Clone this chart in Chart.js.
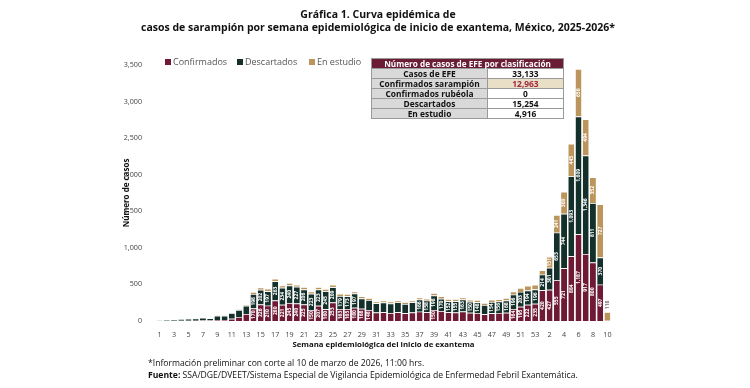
<!DOCTYPE html>
<html>
<head>
<meta charset="utf-8">
<script src="https://cdn.jsdelivr.net/npm/chart.js@4.4.1/dist/chart.umd.min.js"></script>
<style>
  body { margin: 0; background: #fff; font-family: "Open Sans", sans-serif; }
  #wrap { position: relative; width: 750px; height: 388px; overflow: hidden; }
  #chartBox { position: absolute; left: 0; top: 0; width: 750px; height: 388px; }
  .title { position: absolute; left: 0; width: 756px; text-align: center; font-weight: bold; font-size: 10.5px; color: #111; line-height: 13px; top: 8px; }
  .legend { position: absolute; top: 55px; left: 165px; font-size: 9px; color: #555; }
  .legend span { position: absolute; white-space: nowrap; }
  .legend i { display: inline-block; width: 6px; height: 6px; margin-right: 2px; vertical-align: 0px; }
  table.efe { position: absolute; left: 371px; top: 58px; border-collapse: collapse; font-size: 8.4px; font-weight: bold; color: #111; }
  table.efe td { border: 1px solid #9a9a9a; height: 9px; padding: 0; line-height: 9px; text-align: center; }
  table.efe td.h { background: #6a1d35; color: #fff; font-size: 8.2px; }
  table.efe td.l { background: #d9d9d9; width: 115px; }
  table.efe td.v { background: #fff; width: 75px; }
  table.efe td.hl { background: #e9dfc6; color: #a3283f; }
  .foot { position: absolute; left: 148px; top: 357px; font-size: 8.6px; color: #111; line-height: 12px; }
</style>
</head>
<body>
<div id="wrap">
  <div id="chartBox"><canvas id="sarChart"></canvas></div>
  <div class="title">Gráfica 1. Curva epidémica de<br>casos de sarampión por semana epidemiológica de inicio de exantema, México, 2025-2026*</div>
  <div class="legend">
    <span style="left:0"><i style="background:#6e1a35"></i>Confirmados</span>
    <span style="left:72px"><i style="background:#13302a"></i>Descartados</span>
    <span style="left:144px"><i style="background:#bc955c"></i>En estudio</span>
  </div>
  <table class="efe">
    <tr><td class="h" colspan="2">Número de casos de EFE por clasificación</td></tr>
    <tr><td class="l">Casos de EFE</td><td class="v">33,133</td></tr>
    <tr><td class="l">Confirmados sarampión</td><td class="v hl">12,963</td></tr>
    <tr><td class="l">Confirmados rubéola</td><td class="v">0</td></tr>
    <tr><td class="l">Descartados</td><td class="v">15,254</td></tr>
    <tr><td class="l">En estudio</td><td class="v">4,916</td></tr>
  </table>
  <div class="foot">*Información preliminar con corte al 10 de marzo de 2026, 11:00 hrs.<br><b>Fuente:</b> SSA/DGE/DVEET/Sistema Especial de Vigilancia Epidemiológica de Enfermedad Febril Exantemática.</div>
</div>
<script>
// semanas 2025 (1-53) y 2026 (1-10)
const weeks = [
  '1','2','3','4','5','6','7','8','9','10','11','12','13','14','15','16','17','18','19','20',
  '21','22','23','24','25','26','27','28','29','30','31','32','33','34','35','36','37','38','39','40',
  '41','42','43','44','45','46','47','48','49','50','51','52','53',
  '1','2','3','4','5','6','7','8','9','10'
];

const confirmados = [
  1, 1, 3, 4, 4, 5, 8, 6, 12, 14, 30, 55, 95, 170, 226, 210, 280, 221, 245, 240,
  225, 150, 207, 160, 253, 163, 165, 180, 168, 148, 115, 120, 110, 118, 105, 115, 128, 120, 150, 135,
  118, 115, 130, 112, 108, 92, 105, 110, 112, 164, 195, 222, 235,
  420, 427, 555, 721, 884, 1187, 917, 800, 497, 3
];

const descartados = [
  6, 10, 20, 24, 26, 27, 36, 31, 58, 58, 77, 95, 113, 198, 202, 197, 263, 234, 240, 227,
  206, 223, 223, 245, 209, 179, 173, 197, 139, 139, 126, 133, 130, 136, 128, 140, 166, 158, 198, 170,
  152, 155, 163, 150, 148, 126, 154, 156, 168, 196, 203, 194, 196,
  214, 301, 653, 744, 1093, 1609, 1346, 811, 370, 0
];

const enEstudio = [
  1, 1, 2, 2, 2, 3, 4, 3, 5, 6, 8, 10, 17, 27, 31, 34, 34, 31, 33, 29,
  32, 31, 33, 31, 34, 30, 30, 27, 29, 26, 26, 28, 27, 27, 25, 26, 28, 26, 33, 31,
  29, 29, 29, 29, 30, 27, 31, 30, 33, 44, 52, 65, 64,
  60, 151, 241, 300, 445, 650, 494, 352, 727, 118
];

const fmt = v => v.toLocaleString('en-US');

// etiquetas de valor giradas dentro de cada segmento
const barLabels = {
  id: 'barLabels',
  afterDatasetsDraw(chart) {
    const ctx = chart.ctx;
    ctx.save();
    ctx.font = 'bold 5px "Open Sans"';
    ctx.textAlign = 'center';
    ctx.textBaseline = 'middle';
    chart.data.datasets.forEach((ds, di) => {
      const meta = chart.getDatasetMeta(di);
      meta.data.forEach((bar, i) => {
        const v = ds.data[i];
        if (!v) return;
        const txt = fmt(v);
        const h = bar.base - bar.y;
        const tw = ctx.measureText(txt).width;
        let cy, color;
        if (h > tw + 2) {
          cy = bar.y + h / 2;
          color = '#ffffff';
        } else if (di === 2 && v >= 100) {
          cy = bar.y - tw / 2 - 3;
          color = '#777777';
        } else {
          return;
        }
        ctx.save();
        ctx.translate(bar.x, cy);
        ctx.rotate(-Math.PI / 2);
        ctx.fillStyle = color;
        ctx.fillText(txt, 0, 0);
        ctx.restore();
      });
    });
    ctx.restore();
  }
};

const ctx = document.getElementById('sarChart').getContext('2d');
new Chart(ctx, {
  type: 'bar',
  data: {
    labels: weeks,
    datasets: [
      { label: 'Confirmados', data: confirmados, backgroundColor: '#6e1a35' },
      { label: 'Descartados', data: descartados, backgroundColor: '#13302a' },
      { label: 'En estudio', data: enEstudio, backgroundColor: '#bc955c' }
    ]
  },
  options: {
    responsive: true,
    maintainAspectRatio: false,
    animation: false,
    layout: { padding: { left: 122, right: 139, top: 65, bottom: 39 } },
    datasets: {
      bar: {
        barPercentage: 0.82,
        categoryPercentage: 1,
        borderColor: '#ffffff',
        borderWidth: { top: 0.7, bottom: 0, left: 0, right: 0 },
        borderSkipped: false
      }
    },
    plugins: {
      legend: { display: false },
      tooltip: { enabled: false }
    },
    scales: {
      x: {
        stacked: true,
        grid: { display: false },
        border: { display: false },
        ticks: {
          autoSkip: false,
          maxRotation: 0,
          padding: 2,
          color: '#444',
          font: { family: 'Open Sans', size: 7.2 },
          callback: function (val, idx) { return idx % 2 === 0 ? weeks[idx] : ''; }
        },
        title: {
          display: true,
          text: 'Semana epidemiológica del inicio de exantema',
          color: '#111',
          padding: { top: 1, bottom: 0 },
          font: { family: 'Open Sans', size: 7.8, weight: 'bold' }
        },
        afterFit: scale => { scale.height = 28; }
      },
      y: {
        stacked: true,
        min: 0,
        max: 3500,
        grid: { display: false },
        border: { display: false },
        ticks: {
          stepSize: 500,
          padding: 6,
          color: '#444',
          font: { family: 'Open Sans', size: 7.2 },
          callback: v => fmt(v)
        },
        title: {
          display: true,
          text: 'Número de casos',
          color: '#111',
          padding: 0,
          font: { family: 'Open Sans', size: 8, weight: 'bold' }
        },
        afterFit: scale => { scale.width = 34; }
      }
    }
  },
  plugins: [barLabels]
});
</script>
</body>
</html>
